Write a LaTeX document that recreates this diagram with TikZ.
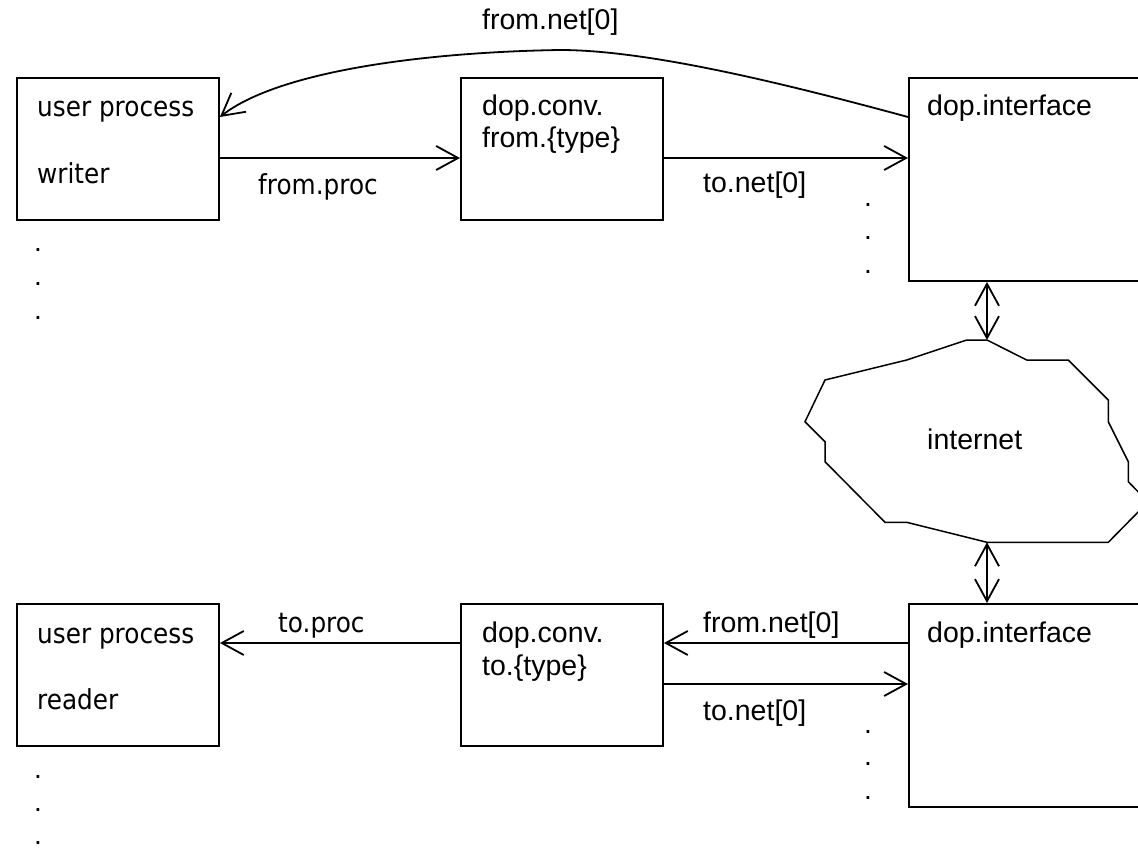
\documentclass[tikz,border=0pt]{standalone}
\usepackage{fontspec}
\setmainfont{Liberation Sans}
\newfontfamily\tah{DejaVu Sans}[FakeStretch=0.9]
\usetikzlibrary{arrows.meta}
\begin{document}
\begin{tikzpicture}[x=1pt,y=-1pt,
  box/.style={draw, line width=1.9pt, minimum width=202pt, minimum height=142pt, inner sep=0pt, anchor=north west},
  ibox/.style={draw, line width=1.9pt, minimum width=262pt, minimum height=203pt, inner sep=0pt, anchor=north west},
  lbl/.style={anchor=base west, inner sep=0pt, font=\fontsize{28.5}{32}\selectfont},
  tlbl/.style={anchor=base west, inner sep=0pt, font=\tah\fontsize{27.5}{32}\selectfont},
  dot/.style={inner sep=0pt, anchor=center, font=\fontsize{28}{32}\selectfont},
  arr/.style={line width=1.8pt, -{Straight Barb[length=22pt,width=24pt]}},
  darr/.style={line width=1.8pt, {Straight Barb[length=22pt,width=24pt]}-{Straight Barb[length=22pt,width=24pt]}}
]
\useasboundingbox (0,0) rectangle (1138,848);
\clip (0,0) rectangle (1138,848);

% upper row
\node[box] (w) at (16,77) {};
\node[tlbl] (wt1) at (37,117) {user process};
\node[tlbl] (wt2) at (37,183) {writer};
\node[box] (c1) at (460,77) {};
\node[lbl] (c1t1) at (482,116) {dop.conv.};
\node[lbl] (c1t2) at (482,148) {from.\{type\}};
\node[ibox] (i1) at (908,77) {};
\node[lbl] (i1t) at (927,116) {dop.interface};

\draw[arr] ([yshift=-81pt]w.north east) -- ([yshift=-81pt]c1.north west);
\draw[arr] ([yshift=-81pt]c1.north east) -- ([yshift=-81pt]i1.north west);
\draw[arr] ([yshift=-40pt]i1.north west) .. controls (790,85) and (650,50) .. (560,50)
  .. controls (430,52) and (280,70) .. ([yshift=-40pt]w.north east);

\node[lbl] (lfn1) at (482,30) {from.net[0]};
\node[tlbl] (lfp) at (258,194) {from.proc};
\node[lbl] (ltn1) at (703,193) {to.net[0]};

% cloud
\coordinate (ct) at (987,340);
\coordinate (cb) at (987,542.3);
\draw[line width=1.5pt] (ct) -- (1026.7,360) -- (1068.3,360) -- (1108.3,400) -- (1108.3,421.7)
  -- (1128.3,461.7) -- (1128.3,481.7) -- (1148,502) -- (1108.3,542.3) -- (cb)
  -- (906.7,522.3) -- (885,522.3) -- (825,461.7) -- (825,441.7) -- (805,421.7)
  -- (825,380) -- (906.7,360) -- (966.7,340) -- cycle;
\node[lbl] (inet) at (927,449) {internet};

% lower row
\node[box] (r) at (16,603) {};
\node[tlbl] (rt1) at (37,643) {user process};
\node[tlbl] (rt2) at (37,709) {reader};
\node[box] (c2) at (460,603) {};
\node[lbl] (c2t1) at (482,642) {dop.conv.};
\node[lbl] (c2t2) at (482,675) {to.\{type\}};
\node[ibox] (i2) at (908,603) {};
\node[lbl] (i2t) at (927,642) {dop.interface};

\draw[darr] (ct |- i1.south) -- (ct);
\draw[darr] (cb) -- (cb |- i2.north);

\draw[arr] ([yshift=-40pt]c2.north west) -- ([yshift=-40pt]r.north east);
\draw[arr] ([yshift=-40pt]i2.north west) -- ([yshift=-40pt]c2.north east);
\draw[arr] ([yshift=-81pt]c2.north east) -- ([yshift=-81pt]i2.north west);

\node[tlbl] (ltp) at (278,632) {to.proc};
\node[lbl] (lfn2) at (703,632) {from.net[0]};
\node[lbl] (ltn2) at (703,720) {to.net[0]};

% dots
\foreach \y [count=\i] in {250,284,318} \node[dot] (da\i) at (38,\y) {.};
\foreach \y [count=\i] in {777,810,843} \node[dot] (db\i) at (38,\y) {.};
\foreach \y [count=\i] in {205,238,272} \node[dot] (dc\i) at (868,\y) {.};
\foreach \y [count=\i] in {732,764,798} \node[dot] (dd\i) at (868,\y) {.};
\end{tikzpicture}
\end{document}
